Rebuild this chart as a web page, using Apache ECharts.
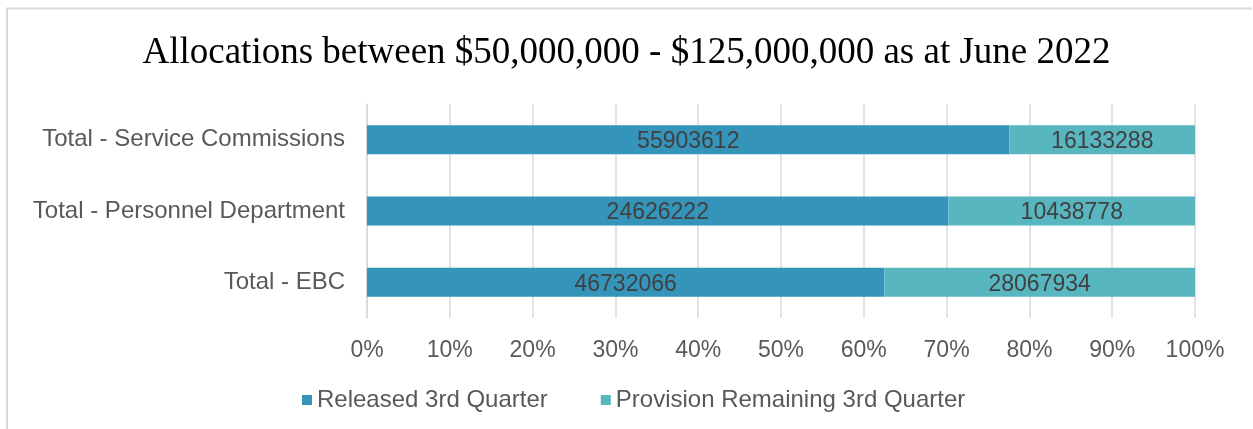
<!DOCTYPE html>
<html>
<head>
<meta charset="utf-8">
<script src="https://cdn.jsdelivr.net/npm/echarts@6/dist/echarts.min.js"></script>
<style>
  html, body { margin: 0; padding: 0; background: #fff; }
  #chart { width: 1253px; height: 429px; }
</style>
</head>
<body>
<div id="chart"></div>
<script>
// categories, bottom to top (category axis on y starts at the bottom)
const categories = ['Total - EBC', 'Total - Personnel Department', 'Total - Service Commissions']
const released = [46732066, 24626222, 55903612]
const remaining = [28067934, 10438778, 16133288]
const seriesNames = ['Released 3rd Quarter', 'Provision Remaining 3rd Quarter']

const chart = echarts.init(document.getElementById('chart'))

// 100% stacked: share of each row total
const totals = released.map((v, i) => v + remaining[i])
const pct = arr => arr.map((v, i) => ({ value: v / totals[i] * 100, raw: v }))

const sans = 'Liberation Sans, Arial, sans-serif'

const labelStyle = {
  show: true,
  position: 'inside',
  offset: [0, 2],
  color: '#404040',
  fontSize: 23,
  fontFamily: sans,
  formatter: p => String(p.data.raw)
}

chart.setOption({
  animation: false,
  title: {
    text: 'Allocations between $50,000,000 - $125,000,000 as at June 2022',
    left: 'center',
    top: 30,
    textStyle: {
      fontFamily: 'Liberation Serif, Times New Roman, serif',
      fontWeight: 'normal',
      fontSize: 37,
      color: '#000'
    }
  },
  legend: {
    bottom: 12,
    left: 297,
    itemWidth: 10,
    itemHeight: 10,
    itemGap: 53,
    icon: 'rect',
    textStyle: { color: '#595959', fontSize: 24, fontFamily: sans },
    data: seriesNames
  },
  grid: { left: 367, right: 58, top: 104, bottom: 111 },
  xAxis: {
    type: 'value',
    min: 0,
    max: 100,
    interval: 10,
    axisLine: { show: false },
    axisTick: { show: false },
    splitLine: { lineStyle: { color: '#d9d9d9', width: 1.5 } },
    axisLabel: {
      formatter: '{value}%',
      color: '#595959',
      fontSize: 23,
      margin: 21,
      fontFamily: sans
    }
  },
  yAxis: {
    type: 'category',
    data: categories,
    axisLine: { show: true, lineStyle: { color: '#d9d9d9', width: 1.5 } },
    axisTick: { show: false },
    axisLabel: {
      color: '#595959',
      fontSize: 24,
      margin: 22,
      padding: [5, 0, 0, 0],
      fontFamily: sans
    }
  },
  series: [
    {
      name: seriesNames[0],
      type: 'bar',
      stack: 'total',
      barWidth: 29,
      itemStyle: { color: '#3494ba' },
      label: labelStyle,
      data: pct(released)
    },
    {
      name: seriesNames[1],
      type: 'bar',
      stack: 'total',
      barWidth: 29,
      itemStyle: { color: '#58b6c0' },
      label: labelStyle,
      data: pct(remaining)
    }
  ],
  graphic: [
    // outer chart frame (top and left edges visible in the crop)
    {
      type: 'polyline',
      silent: true,
      shape: { points: [[7, 429], [7, 8.5], [1252, 8.5]] },
      style: { stroke: '#d9d9d9', lineWidth: 2, fill: null }
    }
  ]
})

window.addEventListener('resize', () => chart.resize())
</script>
</body>
</html>
